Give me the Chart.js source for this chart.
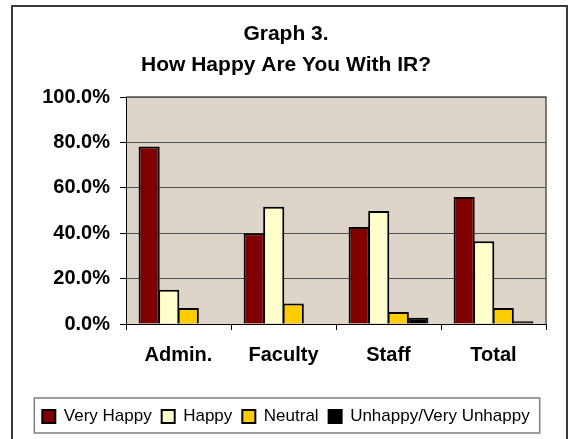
<!DOCTYPE html>
<html>
<head>
<meta charset="utf-8">
<script src="https://cdn.jsdelivr.net/npm/chart.js@4.4.1/dist/chart.umd.min.js"></script>
<style>
  html, body { margin: 0; padding: 0; background: #fff; }
  #wrap { width: 571px; height: 439px; position: relative; }
</style>
</head>
<body>
<div id="wrap"><canvas id="c"></canvas></div>
<script>
// ── Data (percent) ─────────────────────────────────────
const categories  = ['Admin.', 'Faculty', 'Staff', 'Total'];
const veryHappy   = [78.2, 40.0, 42.7, 56.0];
const happy       = [15.1, 51.6, 49.8, 36.4];
const neutral     = [7.1, 9.0, 5.3, 7.1];
const unhappy     = [0, 0, 2.8, 1.2];
const seriesNames = ['Very Happy', 'Happy', 'Neutral', 'Unhappy/Very Unhappy'];
const yTicks      = [0, 20, 40, 60, 80, 100];

const FONT = "'Liberation Sans', Arial, sans-serif";
const PLOT_BG = '#ddd5c9';

// outer frame + plot background + legend frame
const framePlugin = {
  id: 'frame',
  beforeDraw(chart) {
    const ctx = chart.ctx;
    ctx.save();
    ctx.strokeStyle = '#3a3a3a';
    ctx.lineWidth = 2;
    ctx.strokeRect(12, 6, chart.width - 16, chart.height + 10);
    const a = chart.chartArea;
    ctx.fillStyle = PLOT_BG;
    ctx.fillRect(a.left, a.top, a.right - a.left, a.bottom - a.top);
    ctx.restore();
  },
  afterDatasetsDraw(chart) {
    // plot border on top/right
    const ctx = chart.ctx, a = chart.chartArea;
    ctx.save();
    ctx.strokeStyle = '#555';
    ctx.lineWidth = 1.5;
    ctx.beginPath();
    ctx.moveTo(a.left, a.top);
    ctx.lineTo(a.right, a.top);
    ctx.lineTo(a.right, a.bottom);
    ctx.stroke();
    ctx.restore();
  },
  afterDraw(chart) {
    const lg = chart.legend;
    if (!lg || !lg.legendHitBoxes.length) return;
    const hb = lg.legendHitBoxes;
    const last = hb[hb.length - 1];
    const left = hb[0].left - 8;
    const right = last.left + last.width + 10;
    const ctx = chart.ctx;
    ctx.save();
    ctx.strokeStyle = '#808080';
    ctx.lineWidth = 1.5;
    ctx.strokeRect(left, lg.top, right - left, lg.height - 2);
    ctx.restore();
  }
};

// bars overlap slightly so neighbours share one border line
function ds(label, data, color) {
  return {
    label, data,
    backgroundColor: color,
    borderColor: '#000',
    borderWidth: 2,
    borderSkipped: 'bottom',
    categoryPercentage: 0.745,
    barPercentage: 1.08,
  };
}

new Chart(document.getElementById('c'), {
  type: 'bar',
  data: {
    labels: categories,
    datasets: [
      ds(seriesNames[0], veryHappy, '#800000'),
      ds(seriesNames[1], happy, '#ffffcc'),
      ds(seriesNames[2], neutral, '#ffcc00'),
      ds(seriesNames[3], unhappy, '#000000'),
    ],
  },
  options: {
    responsive: true,
    maintainAspectRatio: false,
    animation: false,
    layout: { padding: { left: 26, right: 25, top: 0, bottom: 4 } },
    plugins: {
      title: {
        display: true,
        text: ['Graph 3.', 'How Happy Are You With IR?'],
        color: '#000',
        font: { family: FONT, size: 21, weight: 'bold', lineHeight: 1.5 },
        padding: { top: 18, bottom: 16 },
      },
      legend: {
        position: 'bottom',
        labels: {
          color: '#000',
          font: { family: FONT, size: 17 },
          boxWidth: 13,
          boxHeight: 13,
          padding: 10,
        },
      },
      tooltip: { enabled: false },
    },
    scales: {
      x: {
        afterFit(s) { s.height = 74; },
        grid: { drawOnChartArea: false, tickLength: 6, color: '#000', offset: true },
        border: { color: '#000', width: 1 },
        ticks: { color: '#000', padding: 13, font: { family: FONT, size: 20, weight: 'bold' } },
      },
      y: {
        min: 0,
        max: 100,
        afterFit(s) { s.width = 100; },
        afterBuildTicks(s) { s.ticks = yTicks.map(v => ({ value: v })); },
        grid: { color: '#505050', lineWidth: 1, tickLength: 6, tickColor: '#000' },
        border: { color: '#000', width: 1 },
        ticks: {
          color: '#000',
          padding: 10,
          font: { family: FONT, size: 20, weight: 'bold' },
          callback: v => v.toFixed(1) + '%',
        },
      },
    },
  },
  plugins: [framePlugin],
});
</script>
</body>
</html>
